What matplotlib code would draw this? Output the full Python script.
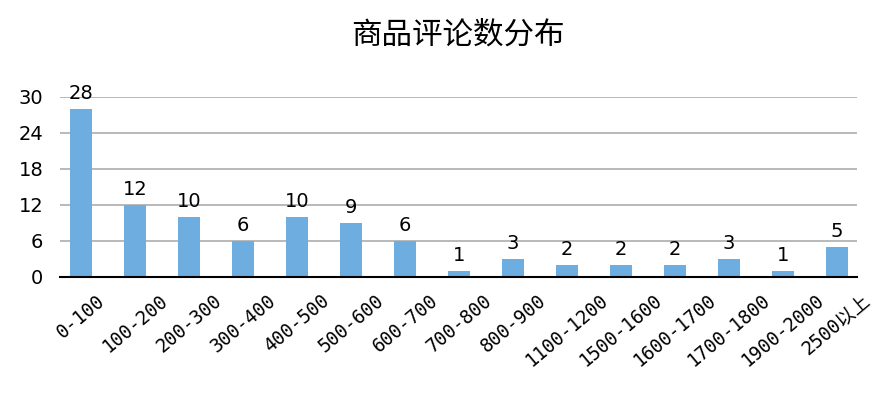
import matplotlib
matplotlib.use("Agg")
import matplotlib.pyplot as plt
import numpy as np

plt.rcParams['font.family'] = ['DejaVu Sans', 'Noto Sans CJK SC']

# 评论数区间及商品数量
categories = ['0-100', '100-200', '200-300', '300-400', '400-500', '500-600',
              '600-700', '700-800', '800-900', '1100-1200', '1500-1600',
              '1600-1700', '1700-1800', '1900-2000', '2500以上']
counts = [28, 12, 10, 6, 10, 9, 6, 1, 3, 2, 2, 2, 3, 1, 5]
yticks = [0, 6, 12, 18, 24, 30]

fig = plt.figure(figsize=(8.94, 3.94), dpi=100)
ax = fig.add_axes([0.0671, 0.297, 0.8915, 0.457])

x = np.arange(len(categories))
bars = ax.bar(x, counts, width=0.4, color='#6eade0', zorder=3)

# 数值标签
for xi, c in zip(x, counts):
    ax.annotate(str(c), (xi, c), xytext=(0, 4), textcoords='offset points',
                ha='center', va='bottom', fontsize=14, color='black')

ax.set_xlim(-0.39, 14.37)
ax.set_ylim(0, 30)
ax.set_yticks(yticks)
ax.yaxis.grid(True, color='#b3b3b3', linewidth=1.3, zorder=0)
ax.set_axisbelow(True)

for s in ['top', 'right', 'left']:
    ax.spines[s].set_visible(False)
ax.spines['bottom'].set_color('black')
ax.spines['bottom'].set_linewidth(1.5)
ax.spines['bottom'].set_zorder(4)

ax.tick_params(axis='y', length=0, pad=12, labelsize=14)
ax.tick_params(axis='x', length=0, pad=10)
ax.set_xticks(x)
ax.set_xticklabels(categories, rotation=40, ha='center', fontsize=13.5,
                   family=['DejaVu Sans Mono', 'Noto Sans CJK SC'])

fig.text(0.512, 0.912, '商品评论数分布', ha='center', va='center', fontsize=22,
         family=['Noto Sans CJK SC', 'DejaVu Sans'])

fig.savefig('out.png', dpi=100)
